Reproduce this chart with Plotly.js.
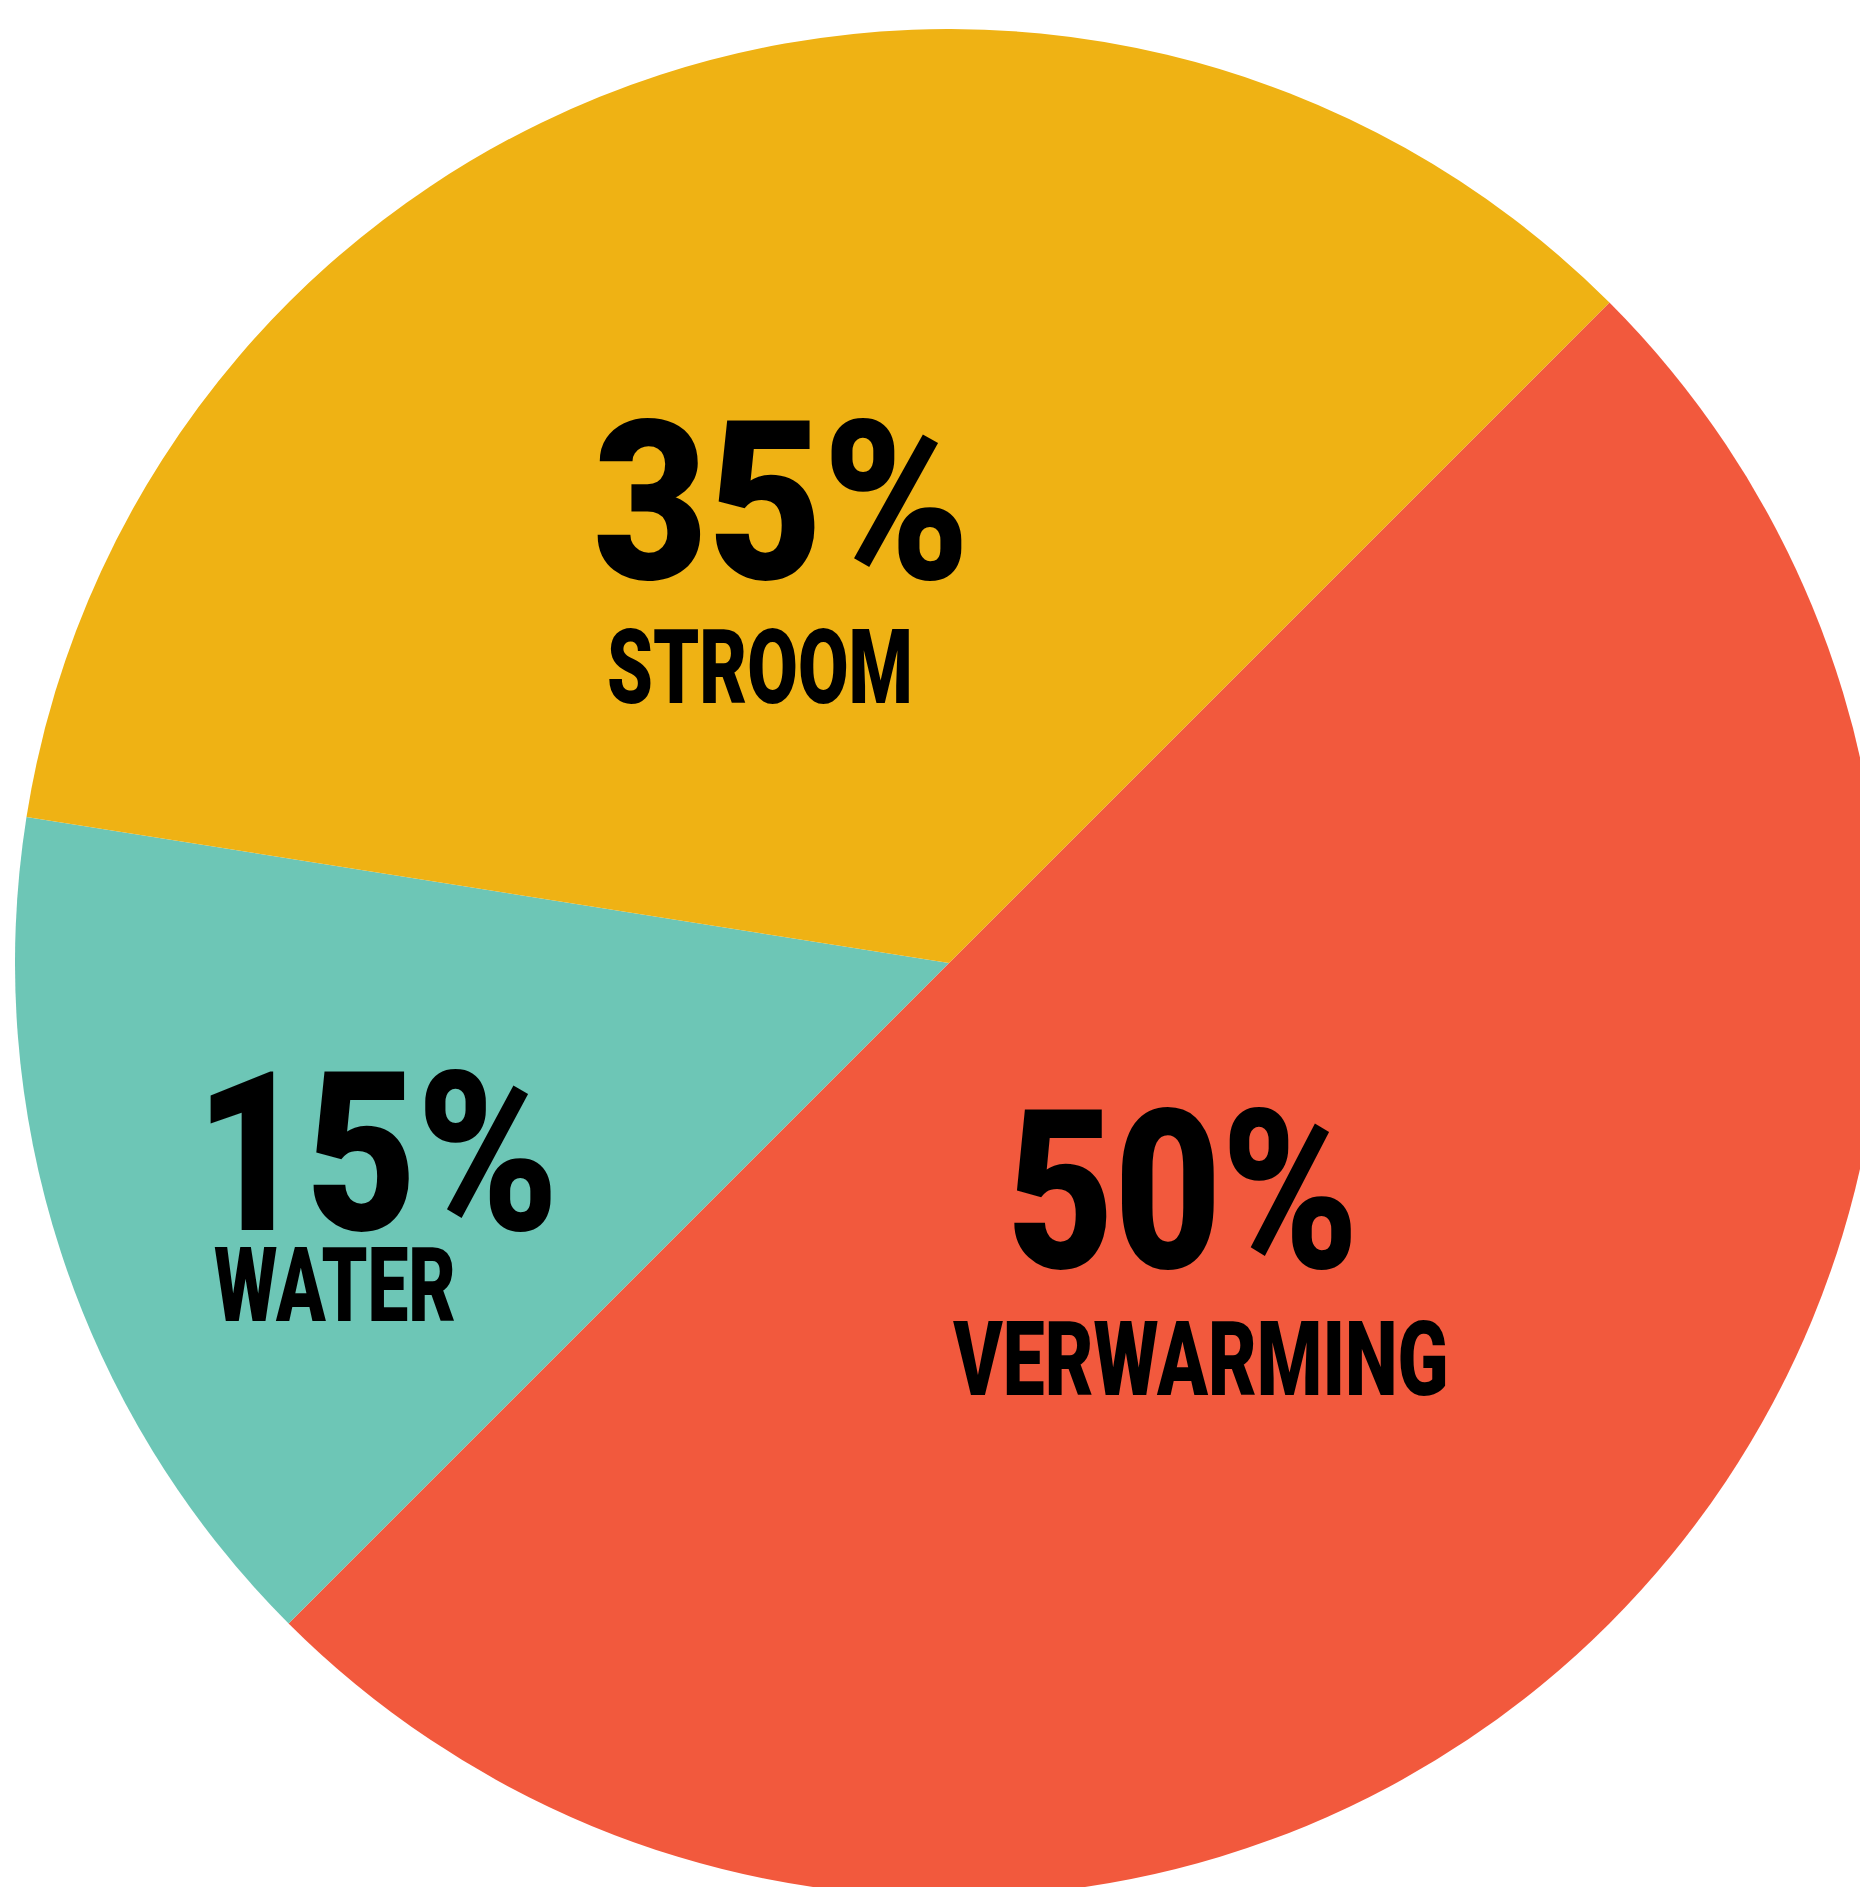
<!DOCTYPE html>
<html>
<head>
<meta charset="utf-8">
<script src="https://cdn.plot.ly/plotly-3.0.1.min.js"></script>
<style>
  html, body { margin: 0; padding: 0; width: 1860px; height: 1887px; overflow: hidden; background: #ffffff; }
  #chart { position: absolute; left: 15px; top: 29px; width: 1868px; height: 1868px; }
</style>
</head>
<body>
<div id="chart"></div>
<script>
// Data
const categories = ['VERWARMING', 'WATER', 'STROOM'];
const shares = [50, 15, 35];
const sliceColors = ['#F2593D', '#6DC6B6', '#EFB214'];

// Label placement (div pixel coords) and target widths – styling only
const W = 1868, H = 1868;
const numPos = [
  { x: 990, y: 1163, anchor: 'left', w: 352 },
  { x: 178, y: 1125, anchor: 'left', w: 364 },
  { x: 576, y: 474, anchor: 'left', w: 377 }
];
const catPos = [
  { x: 1185, y: 1330, anchor: 'center', w: 496 },
  { x: 197, y: 1256, anchor: 'left', w: 242 },
  { x: 590, y: 638, anchor: 'left', w: 306 }
];

const FONT = 'Roboto, "Liberation Sans", sans-serif';

const annotations = [];
const widths = [];
categories.forEach((c, i) => {
  annotations.push({
    xref: 'paper', yref: 'paper',
    x: numPos[i].x / W, y: 1 - numPos[i].y / H,
    xanchor: numPos[i].anchor, yanchor: 'middle',
    text: shares[i] + '%', showarrow: false,
    font: { family: FONT, size: 222, color: '#000000', weight: 900 }
  });
  widths.push({ w: numPos[i].w, anchor: numPos[i].anchor });
  annotations.push({
    xref: 'paper', yref: 'paper',
    x: catPos[i].x / W, y: 1 - catPos[i].y / H,
    xanchor: catPos[i].anchor, yanchor: 'middle',
    text: c, showarrow: false,
    font: { family: FONT, size: 104, color: '#000000', weight: 900 }
  });
  widths.push({ w: catPos[i].w, anchor: catPos[i].anchor });
});

const trace = {
  type: 'pie',
  labels: categories,
  values: shares,
  sort: false,
  direction: 'clockwise',
  rotation: 45,
  marker: { colors: sliceColors, line: { width: 0 } },
  textinfo: 'none',
  hoverinfo: 'none',
  domain: { x: [0, 1], y: [0, 1] }
};

const layout = {
  width: W, height: H,
  margin: { l: 0, r: 0, t: 0, b: 0, pad: 0 },
  paper_bgcolor: 'rgba(0,0,0,0)',
  plot_bgcolor: 'rgba(0,0,0,0)',
  showlegend: false,
  annotations: annotations
};

Plotly.newPlot('chart', [trace], layout, { staticPlot: true, displayModeBar: false }).then(gd => {
  // condense the label type horizontally to mimic the narrow display face
  widths.forEach((t, i) => {
    const g = gd.querySelector('.annotation[data-index="' + i + '"]');
    if (!g) return;
    const txt = g.querySelector('.annotation-text');
    if (!txt) return;
    const bb = txt.getBBox();
    if (!bb.width) return;
    const sx = t.w / bb.width;
    const ox = t.anchor === 'center' ? bb.x + bb.width / 2 : bb.x;
    txt.setAttribute('transform', 'translate(' + ox + ',0) scale(' + sx + ',1) translate(' + (-ox) + ',0)');
  });
});
</script>
</body>
</html>
